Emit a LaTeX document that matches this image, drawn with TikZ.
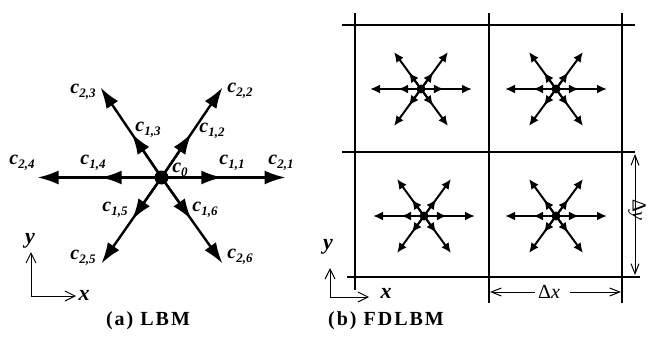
\documentclass[tikz,border=0pt]{standalone}
\usepackage{fontspec}
\setmainfont{Liberation Serif}
\newfontfamily\capfont[LetterSpace=10]{Liberation Serif}
\usetikzlibrary{arrows.meta,calc}
\newcommand\clab[1]{c\raisebox{-4pt}{\fontsize{13}{13}\selectfont #1}}
\tikzset{
  vec/.style={line width=2.4pt, -{Latex[length=21pt,width=14pt]}},
  svec/.style={line width=2pt, -{Latex[length=10pt,width=9pt]}},
  gridline/.style={line width=2pt},
  axis/.style={line width=1pt, -{Straight Barb[length=10pt,width=10pt]}},
  dimarrow/.style={line width=1pt, -{Straight Barb[length=10pt,width=8pt]}},
  lab/.style={inner sep=0pt, font=\fontsize{20}{20}\selectfont\bfseries\itshape},
  axlab/.style={inner sep=0pt, font=\fontsize{22}{22}\selectfont\bfseries\itshape},
  dimlab/.style={inner sep=0pt, font=\fontsize{20}{20}\selectfont},
  caption/.style={inner sep=0pt, font=\fontsize{20}{20}\selectfont\capfont\bfseries},
  bigdot/.style={circle, fill=black, inner sep=0pt, minimum size=14pt},
  smalldot/.style={circle, fill=black, inner sep=0pt, minimum size=9pt},
}
\begin{document}
\begin{tikzpicture}[x=1pt,y=-1pt]
\useasboundingbox (0,0) rectangle (652,350);

% ---------- (a) LBM ----------
\coordinate (O) at (161.5,177.5);
\foreach \k/\dx/\dy in {1/124/0, 2/61/-90, 3/-61/-90, 4/-124/0, 5/-60/86, 6/61/86}{
  \coordinate (t\k) at ($(O)+(\dx,\dy)$);
  \coordinate (m\k) at ($(O)!0.49!(t\k)$);
  \draw[vec] (O) -- (t\k);
  \draw[vec] (O) -- (m\k);
}
\node[bigdot] (c0) at (O) {};

\node[lab] (l23) at (83,92) {\clab{2,3}};
\node[lab] (l13) at (148,130) {\clab{1,3}};
\node[lab] (l22) at (240,91) {\clab{2,2}};
\node[lab] (l12) at (212,131) {\clab{1,2}};
\node[lab] (l24) at (22,163) {\clab{2,4}};
\node[lab] (l14) at (93,163) {\clab{1,4}};
\node[lab] (l0)  at (180,170) {\clab{0}};
\node[lab] (l11) at (232,163) {\clab{1,1}};
\node[lab] (l21) at (281,163) {\clab{2,1}};
\node[lab] (l15) at (115,210) {\clab{1,5}};
\node[lab] (l16) at (205,210) {\clab{1,6}};
\node[lab] (l25) at (83,258) {\clab{2,5}};
\node[lab] (l26) at (240,257) {\clab{2,6}};

% axes (a)
\coordinate (ao) at (31,296);
\coordinate (ay) at (31,252);
\coordinate (ax) at (76,296);
\draw[axis] (ao) -- (ay);
\draw[axis] (ao) -- (ax);
\node[axlab] (ya) at (30,241) {y};
\node[axlab] (xa) at (84,295) {x};

% ---------- (b) FDLBM ----------
\draw[gridline] (355,13) -- (355,290);
\draw[gridline] (489,13) -- (489,303);
\draw[gridline] (622,13) -- (622,303);
\draw[gridline] (342,25) -- (635,25);
\draw[gridline] (342,152) -- (635,152);
\draw[gridline] (347,277) -- (640,277);

\foreach \n/\cx/\cy in {A/421/89, B/556/89, C/424/216, D/556/216}{
  \coordinate (s\n) at (\cx,\cy);
  \foreach \k/\dx/\dy in {1/51/0, 2/27/-37, 3/-27/-37, 4/-51/0, 5/-27/37, 6/27/37}{
    \coordinate (s\n t\k) at ($(s\n)+(\dx,\dy)$);
    \coordinate (s\n m\k) at ($(s\n)!0.45!(s\n t\k)$);
    \draw[svec] (s\n) -- (s\n t\k);
    \draw[svec] (s\n) -- (s\n m\k);
  }
  \node[smalldot] (d\n) at (s\n) {};
}

% dimension arrows
\node[dimlab, rotate=-90] (dy) at (637,210) {Δ\textit{y}};
\coordinate (dyt) at (635,154);
\coordinate (dyb) at (635,275);
\draw[dimarrow] ($(dy.east)+(-2,-3)$) -- (dyt);
\draw[dimarrow] ($(dy.west)+(-2,3)$) -- (dyb);

\node[dimlab] (dx) at (549,292) {Δ\textit{x}};
\coordinate (dxl) at (490,292);
\coordinate (dxr) at (621,292);
\draw[dimarrow] ($(dx.west)+(-3,0)$) -- (dxl);
\draw[dimarrow] ($(dx.east)+(10,0)$) -- (dxr);

% axes (b)
\coordinate (bo) at (330,297);
\coordinate (by) at (330,268);
\coordinate (bx) at (369,297);
\draw[axis] (bo) -- (by);
\draw[axis] (bo) -- (bx);
\node[axlab] (yb) at (328,247) {y};
\node[axlab] (xb) at (386,293) {x};

% captions
\node[caption] (capa) at (148,321) {(a) LBM};
\node[caption] (capb) at (386,321) {(b) FDLBM};
\end{tikzpicture}
\end{document}
